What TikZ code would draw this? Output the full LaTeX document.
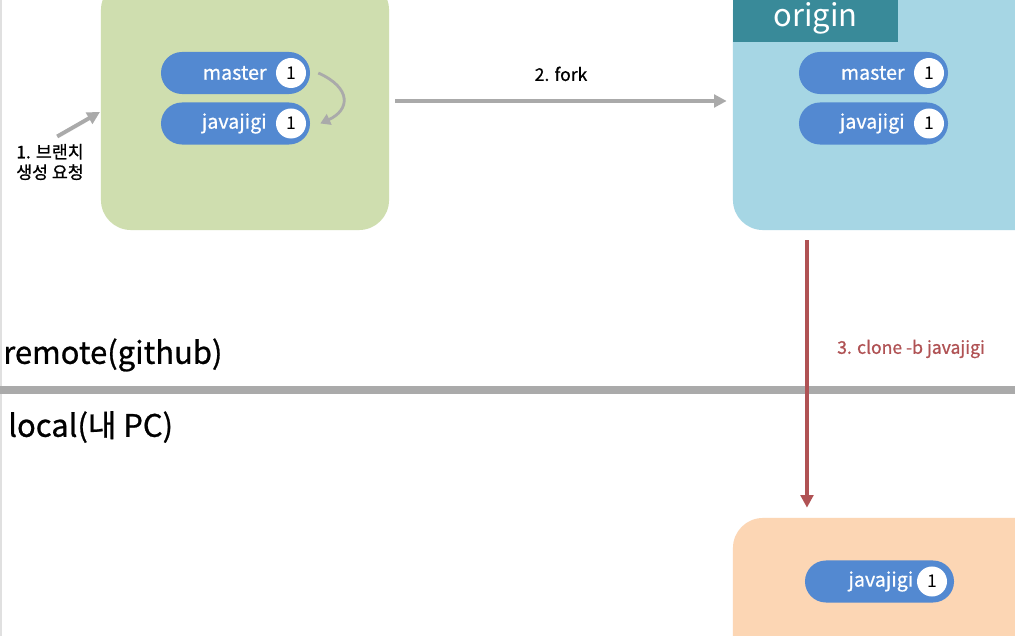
\documentclass[tikz,border=0pt]{standalone}
\usepackage{fontspec}
\setmainfont{Noto Sans CJK KR}[FakeBold=0.8]
\newfontfamily\thinfont{Noto Sans CJK KR}
\usetikzlibrary{positioning,arrows.meta}

\definecolor{forkgreen}{RGB}{207,222,175}
\definecolor{originblue}{RGB}{166,214,228}
\definecolor{origintab}{RGB}{57,138,153}
\definecolor{localorange}{RGB}{252,214,180}
\definecolor{pillblue}{RGB}{83,137,209}
\definecolor{edgegray}{RGB}{170,170,170}
\definecolor{clonered}{RGB}{176,82,84}

\begin{document}
\begin{tikzpicture}[x=0.025cm, y=-0.025cm]
        \tikzstyle{repo}=[rectangle, rounded corners=0.75cm, inner sep=0pt, minimum width=7.8cm, minimum height=6.25cm]
        \tikzstyle{pill}=[rectangle, fill=pillblue, rounded corners=0.525cm, inner sep=0pt, minimum width=3.725cm, minimum height=1.05cm]
        \tikzstyle{num}=[circle, fill=white, inner sep=0pt, minimum size=0.75cm, font=\thinfont\fontsize{12.5}{12.5}\selectfont]
        \tikzstyle{branch}=[text=white, inner sep=0pt, font=\fontsize{14}{14}\selectfont]
        \tikzstyle{side}=[inner sep=0pt, anchor=west, font=\fontsize{22}{22}\selectfont]
        \tikzstyle{edge}=[edgegray, line width=2.8pt, -{Triangle[length=9pt, width=9pt]}]

        \useasboundingbox (0,0) rectangle (1015,636);
        \clip (0,0) rectangle (1015,636);
        \fill[white] (0,0) rectangle (1015,636);
        \draw[black!12, line width=1.4pt] (1,0) -- (1,636);

        % repositories
        \node[repo, fill=forkgreen, minimum width=7.2cm] (fork)   at (245,105) {};
        \node[repo, fill=originblue]                     (origin) at (889,105) {};
        \node[repo, fill=localorange, minimum height=6.05cm] (local) at (889,639) {};
        \node[fill=origintab, minimum width=4.125cm, minimum height=1.2cm, text=white, font=\thinfont\fontsize{22}{22}\selectfont] (tab) at (815.5,18) {origin};

        % branches
        \node[pill] (fmaster)   at (235.5,73)  {};
        \node[pill] (fjavajigi) at (235.5,123.5) {};
        \node[num]  (fmastern)   at (291,73)    {1};
        \node[num]  (fjavajigin) at (291,123.5) {1};
        \node[branch, left=0.22cm of fmastern]   {master};
        \node[branch, left=0.22cm of fjavajigin] {javajigi};

        \node[pill] (omaster)   at (873.5,73)    {};
        \node[pill] (ojavajigi) at (873.5,123.5) {};
        \node[num]  (omastern)   at (929,73)    {1};
        \node[num]  (ojavajigin) at (929,123.5) {1};
        \node[branch, left=0.22cm of omastern]   {master};
        \node[branch, left=0.22cm of ojavajigin] {javajigi};

        \node[pill] (ljavajigi)  at (879.5,581.5) {};
        \node[num]  (ljavajigin) at (932,581.5)   {1};
        \node[branch, left=0.08cm of ljavajigin] {javajigi};

        % remote / local
        \draw[edgegray, line width=5pt] (0,390) -- (1015,390);
        \node[side] (remote) at (3,355) {remote(github)};
        \node[side] (mypc)   at (8,427) {local(내 PC)};

        % steps
        \node[align=center, inner sep=0pt, font=\fontsize{12.3}{14.5}\selectfont] (request) at (50,162) {1. 브랜치\\생성 요청};
        \coordinate (requesttip) at (100,112);
        \draw[edge] ([xshift=0.18cm, yshift=0.18cm]request.north) -- (requesttip);

        \draw[edge, line width=2pt, -{Triangle[length=7pt, width=8pt]}] ([xshift=0.3cm]fmastern.east) .. controls (352,88) and (350,110) .. ([xshift=0.35cm]fjavajigin.east);

        \draw[edge] ([xshift=0.15cm, yshift=0.1cm]fork.east) -- ([xshift=-0.15cm, yshift=0.1cm]origin.west)
            node[midway, above=0.33cm, text=black, font=\fontsize{12.5}{12.5}\selectfont] (forklabel) {2. fork};

        \draw[clonered, line width=2.8pt, -{Triangle[length=9pt, width=9pt]}, shorten <=0.25cm, shorten >=0.25cm]
            ([xshift=-2.05cm]origin.south) -- ([xshift=-2.05cm]local.north);
        \node[text=clonered, font=\fontsize{12.5}{12.5}\selectfont] (clonelabel) at (911,349) {3. clone -b javajigi};
\end{tikzpicture}
\end{document}
